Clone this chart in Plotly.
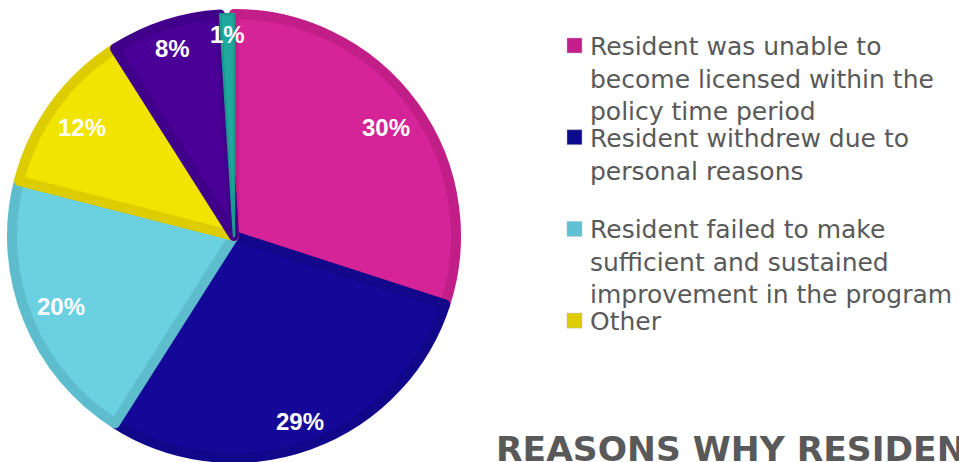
import math
import plotly.graph_objects as go

# ---- data -------------------------------------------------------------
categories = [
    "Resident was unable to become licensed within the policy time period",
    "Resident withdrew due to personal reasons",
    "Resident failed to make sufficient and sustained improvement in the program",
    "Other",
    "Additional reason 1",
    "Additional reason 2",
]
shares = [30, 29, 20, 12, 8, 1]

# legend shows the first four categories, wrapped as in the key
legend_lines = [
    ["Resident was unable to", "become licensed within the", "policy time period"],
    ["Resident withdrew due to", "personal reasons"],
    ["Resident failed to make", "sufficient and sustained", "improvement in the program"],
    ["Other"],
]
title_text = "REASONS WHY RESIDENTS"

# ---- styling ----------------------------------------------------------
fill_colors = ["#D42497", "#150899", "#6BD0E0", "#F0E400", "#4A0096", "#20A89E"]
edge_colors = ["#C21E88", "#10078A", "#5EBDCC", "#DCCC00", "#40008A", "#1C9A90"]
edge_widths = [10, 10, 10, 10, 10, 2.5]
swatch_colors = ["#C41E8A", "#0C0A8C", "#5EC2D4", "#DDCC00"]

W, H = 959, 462
CX, CY = 234, 236          # pie centre (px from top-left)
R_OUT = 227                # outer radius including border
STROKE = 10
R_PATH = R_OUT - STROKE / 2

LABEL_SIZE = 24
LEG_SIZE = 25
LEG_X_TEXT = 588
LEG_X_BOX = 567
LEG_FIRST_BASE = 55
LEG_STEP = 91.7


def px(x):
    return x / W


def py(y):
    return 1 - y / H


fig = go.Figure()

fig.add_trace(go.Pie(
    labels=categories,
    values=shares,
    sort=False,
    direction="clockwise",
    rotation=0,
    textinfo="none",
    hoverinfo="label+percent",
    showlegend=False,
    marker=dict(colors=fill_colors, line=dict(color=edge_colors, width=edge_widths)),
    domain=dict(
        x=[px(CX - R_PATH), px(CX + R_PATH)],
        y=[py(CY + R_PATH), py(CY - R_PATH)],
    ),
))

annotations = []

# percentage labels placed just inside the outer edge of each slice
total = sum(shares)
cum = 0
for v in shares:
    mid = math.radians((cum + v / 2) / total * 360)
    cum += v
    pct = round(v / total * 100)
    txt = f"{pct}%"
    ndig = len(str(pct))
    hw = 0.5 * LABEL_SIZE * (0.556 * ndig + 0.889)
    hh = 0.36 * LABEL_SIZE
    extent = hw * abs(math.sin(mid)) + hh * abs(math.cos(mid))
    r = R_OUT - 15 - extent
    lx = CX + r * math.sin(mid)
    ly = CY - r * math.cos(mid)
    annotations.append(dict(
        x=px(lx), y=py(ly + 1.5), xref="paper", yref="paper",
        text=f"<b>{txt}</b>", showarrow=False,
        xanchor="center", yanchor="middle",
        font=dict(family="Liberation Sans, Arial, sans-serif", size=LABEL_SIZE, color="white"),
    ))

# key: coloured squares with wrapped category text
shapes = []
for k, lines in enumerate(legend_lines):
    base = LEG_FIRST_BASE + LEG_STEP * k
    shapes.append(dict(
        type="rect", xref="paper", yref="paper",
        x0=px(LEG_X_BOX), x1=px(LEG_X_BOX + 15),
        y0=py(base - 2), y1=py(base - 17),
        fillcolor=swatch_colors[k], line=dict(color="#B8B8B8", width=0.5),
    ))
    annotations.append(dict(
        x=px(LEG_X_TEXT), y=py(base - 25), xref="paper", yref="paper",
        text="<br>".join(lines), showarrow=False,
        xanchor="left", yanchor="top", align="left",
        font=dict(family="DejaVu Sans, sans-serif", size=LEG_SIZE, color="#595959"),
    ))

# chart heading along the bottom right, running off the page edge
annotations.append(dict(
    x=px(494), y=py(471), xref="paper", yref="paper",
    text=f"<b>{title_text}</b>", showarrow=False,
    xanchor="left", yanchor="bottom", align="left",
    font=dict(family="DejaVu Sans, sans-serif", size=34.5, color="#595959"),
))

fig.update_layout(
    width=W, height=H,
    margin=dict(l=0, r=0, t=0, b=0),
    paper_bgcolor="white",
    plot_bgcolor="white",
    annotations=annotations,
    shapes=shapes,
)

fig.write_html("out.html")
